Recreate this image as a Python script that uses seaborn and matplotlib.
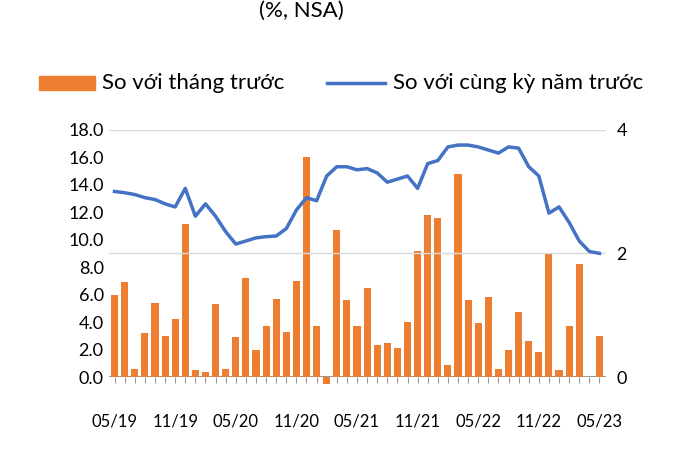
import matplotlib
matplotlib.use("Agg")
import matplotlib.pyplot as plt
import seaborn as sns
import pandas as pd
import numpy as np

months = pd.period_range("2019-05", "2023-05", freq="M").strftime("%m/%y").tolist()
mom = [6.0, 6.9, 0.6, 3.2, 5.4, 3.0, 4.2, 11.1, 0.5, 0.4, 5.3, 0.6, 2.9, 7.2, 2.0, 3.7, 5.7, 3.3,
       7.0, 16.0, 3.7, -0.5, 10.7, 5.6, 3.7, 6.5, 2.3, 2.5, 2.1, 4.0, 9.2, 11.8, 11.6, 0.9, 14.8,
       5.6, 3.9, 5.8, 0.6, 2.0, 4.7, 2.6, 1.8, 9.0, 0.5, 3.7, 8.2, 0.0, 3.0]
yoy = [3.0, 2.98, 2.95, 2.9, 2.87, 2.8, 2.75, 3.05, 2.6, 2.8, 2.6, 2.35, 2.15, 2.2, 2.25, 2.27,
       2.28, 2.4, 2.7, 2.9, 2.85, 3.25, 3.4, 3.4, 3.35, 3.37, 3.3, 3.15, 3.2, 3.25, 3.05, 3.45,
       3.5, 3.72, 3.75, 3.75, 3.72, 3.67, 3.62, 3.72, 3.7, 3.4, 3.25, 2.65, 2.75, 2.5, 2.2, 2.03, 2.0]

plt.rcParams['font.family'] = ['Lato', 'DejaVu Sans']
df = pd.DataFrame({"m": months, "mom": mom, "yoy": yoy})
x = np.arange(len(months))

fig = plt.figure(figsize=(7, 4.5), dpi=100)
ax = fig.add_axes([0.155, 0.162, 0.71, 0.55])
ax2 = ax.twinx()
sns.barplot(data=df, x="m", y="mom", color="#ED7D31", saturation=1, width=0.7, ax=ax, zorder=3)
for p in ax.patches:
    p.set_clip_on(False)
ax2.plot(x, yoy, color="#4472C4", lw=2.5, zorder=4, solid_joinstyle="round")
ax2.set_zorder(ax.get_zorder() + 1)
ax2.patch.set_visible(False)

ax.set_ylim(0, 18)
ax.set_yticks(np.arange(0, 18.1, 2))
ax.set_yticklabels([f"{v:.1f}" for v in np.arange(0, 18.1, 2)], fontsize=13)
ax2.set_ylim(0, 4)
ax2.set_yticks([0, 2, 4])
ax2.set_yticklabels(["0", "2", "4"], fontsize=13)
ax.set_xlim(-0.6, len(months) - 0.4)
ax.set_xticks(x)
ax.set_xticklabels([m if i % 6 == 0 else "" for i, m in enumerate(months)], fontsize=12)
ax.tick_params(axis="x", length=4, color="#999999", pad=22)
ax.tick_params(axis="y", length=0)
ax2.tick_params(axis="y", length=0, pad=8)
ax.set_xlabel(""); ax.set_ylabel("")
for a in (ax, ax2):
    for s in a.spines.values():
        s.set_visible(False)
ax.axhline(0, color="#999999", lw=1.5, zorder=2)
for g in (2, 4):
    ax2.axhline(g, color="#d9d9d9", lw=1, zorder=0)

fig.text(0.37, 0.975, "(%, NSA)", fontsize=16, ha="left", va="center")
fig.patches.append(plt.Rectangle((0.055, 0.8), 0.08, 0.03, transform=fig.transFigure, color="#ED7D31"))
fig.text(0.145, 0.815, "So với tháng trước", fontsize=16, va="center")
fig.lines.append(plt.Line2D([0.467, 0.55], [0.815, 0.815], transform=fig.transFigure, color="#4472C4", lw=2.5))
fig.text(0.562, 0.815, "So với cùng kỳ năm trước", fontsize=16, va="center")
fig.savefig("out.png")
